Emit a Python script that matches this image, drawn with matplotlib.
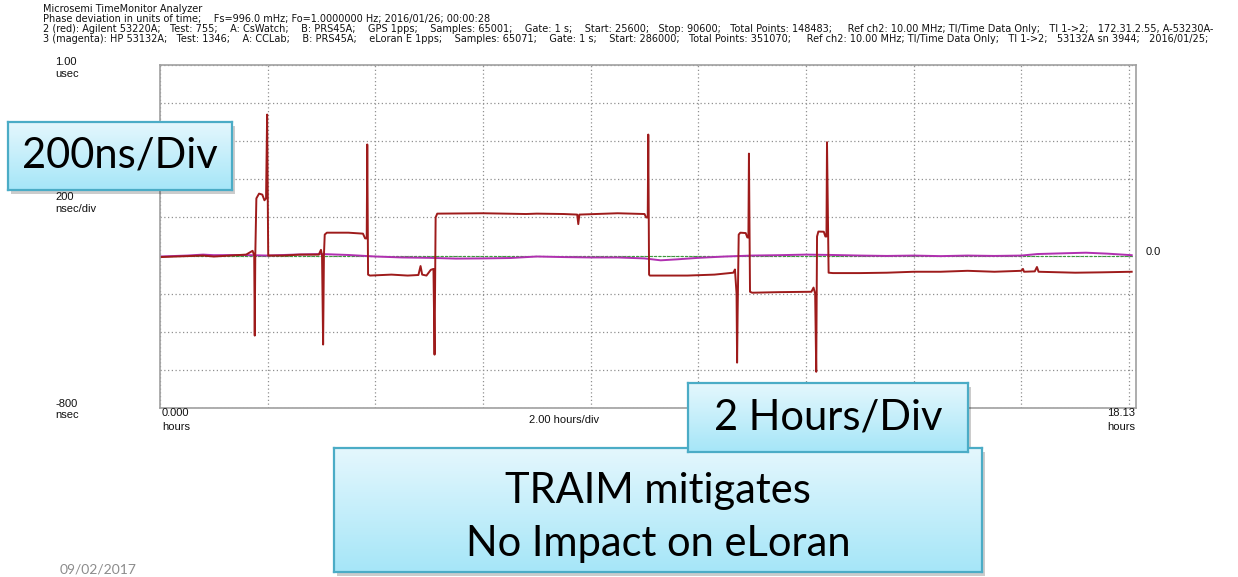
import numpy as np
import matplotlib
matplotlib.use("Agg")
import matplotlib.pyplot as plt
from matplotlib.colors import LinearSegmentedColormap
from matplotlib.patches import Rectangle

W, H = 1238, 577

# ---- data (hours, ns) ----
red_t = [0, 0.3, 0.8, 1.0, 1.3, 1.6, 1.72, 1.75, 1.76, 1.77, 1.79, 1.84, 1.90, 1.94, 1.97, 1.99, 2.01,
         2.3, 2.6, 2.95, 2.99, 3.01, 3.03, 3.045, 3.06, 3.10, 3.5, 3.77, 3.81, 3.84, 3.85, 3.865,
         3.9, 4.3, 4.6, 4.80, 4.84, 4.87, 4.95, 5.03, 5.08, 5.10, 5.12, 5.15,
         6.0, 6.8, 7.0, 7.5, 7.75, 7.77, 7.79, 8.5, 9.0, 9.03, 9.06, 9.07, 9.085,
         9.1, 9.8, 10.3, 10.65, 10.68, 10.71, 10.72, 10.73, 10.75, 10.78, 10.88, 10.91, 10.93, 10.94, 10.96,
         11.0, 11.5, 12.1, 12.14, 12.17, 12.19, 12.205, 12.23, 12.33, 12.36, 12.38, 12.39, 12.42,
         12.5, 13.0, 13.5, 14.0, 14.5, 15.0, 15.5, 16.0, 16.03, 16.05, 16.25, 16.29, 16.32, 17.0, 17.5, 18.05]
red_ns = [-8, -5, 0, -5, 0, 5, 25, 0, -420, 0, 300, 325, 320, 290, 300, 740, 0,
          0, 5, 5, 30, 0, -467, 0, 110, 120, 120, 115, 90, 90, 583, -100,
          -105, -100, -105, -102, -55, -100, -105, -75, -70, -520, 200, 220,
          222, 218, 220, 218, 215, 165, 215, 222, 218, 200, 200, 635, -100,
          -105, -105, -100, -90, -73, -200, -562, -300, 110, 120, 118, 95, 95, 535, -190,
          -195, -192, -190, -168, -200, -610, 100, 126, 125, 100, 100, 595, -90,
          -92, -92, -90, -85, -85, -80, -85, -80, -70, -85, -83, -60, -85, -90, -88, -85]

mag_t = [0, 0.5, 0.8, 1.0, 1.5, 2.0, 2.5, 3.0, 3.5, 4.0, 4.5, 5.0, 5.5, 6.0, 6.5, 7.0, 7.5, 8.0, 8.5,
         9.0, 9.3, 9.6, 10.0, 10.5, 11.0, 11.5, 12.0, 12.5, 13.0, 13.5, 14.0, 14.5, 15.0, 15.5, 16.0,
         16.3, 16.8, 17.2, 17.6, 18.05]
mag_ns = [-5, 0, 5, 2, 3, 0, 5, 8, 3, -5, -10, -12, -16, -15, -13, -5, -8, -10, -10,
          -15, -25, -20, -12, -5, 0, 2, 5, 3, 0, -2, 0, -3, 0, -2, 0,
          8, 12, 15, 10, 2]

ref_t = [0, 18.05]
ref_ns = [0, 0]

x_ticks = np.arange(0, 18.13, 2)
y_ticks = np.arange(-800, 1001, 200)

header = [
    "Microsemi TimeMonitor Analyzer",
    "Phase deviation in units of time;    Fs=996.0 mHz; Fo=1.0000000 Hz; 2016/01/26; 00:00:28",
    "2 (red): Agilent 53220A;   Test: 755;    A: CsWatch;    B: PRS45A;    GPS 1pps;    Samples: 65001;    Gate: 1 s;    "
    "Start: 25600;   Stop: 90600;   Total Points: 148483;     Ref ch2: 10.00 MHz; TI/Time Data Only;   TI 1->2;   172.31.2.55, A-53230A-",
    "3 (magenta): HP 53132A;   Test: 1346;    A: CCLab;    B: PRS45A;    eLoran E 1pps;    Samples: 65071;    Gate: 1 s;    "
    "Start: 286000;   Total Points: 351070;     Ref ch2: 10.00 MHz; TI/Time Data Only;   TI 1->2;   53132A sn 3944;   2016/01/25;",
]


def rect(x0, y0, x1, y1):
    return [x0 / W, 1 - y1 / H, (x1 - x0) / W, (y1 - y0) / H]


def fxy(x, y):
    return x / W, 1 - y / H


fig = plt.figure(figsize=(W / 100, H / 100), dpi=100)
fig.patch.set_facecolor("white")

ax = fig.add_axes(rect(160, 65, 1136, 408))
ax.set_zorder(1)
ax.plot(ref_t, ref_ns, color="#3c9a3c", lw=0.8, ls=(0, (3, 1)))
ax.plot(mag_t, mag_ns, color="#b030b0", lw=1.4)
ax.plot(red_t, red_ns, color="#9e1b1b", lw=1.4)
ax.set_xlim(0, 18.13)
ax.set_ylim(-800, 1000)
ax.set_xticks(x_ticks)
ax.set_yticks(y_ticks)
ax.grid(True, color="#909090", ls=(0, (1, 2)), lw=0.9)
ax.tick_params(left=False, bottom=False, labelleft=False, labelbottom=False)
for s in ax.spines.values():
    s.set_color("#a0a0a0")
    s.set_linewidth(1.2)

small = dict(fontsize=8, family="Liberation Sans", color="#111111")
head = dict(fontsize=7, family="DejaVu Sans", color="#111111")
for i, line in enumerate(header):
    fig.text(*fxy(43, 9 + 10 * i), line, va="center", ha="left", **head)

fig.text(*fxy(55, 62), "1.00", va="center", **small)
fig.text(*fxy(55, 74), "usec", va="center", **small)
fig.text(*fxy(55, 197), "200", va="center", **small)
fig.text(*fxy(55, 209), "nsec/div", va="center", **small)
fig.text(*fxy(55, 404), "-800", va="center", **small)
fig.text(*fxy(55, 415), "nsec", va="center", **small)
fig.text(*fxy(162, 413), "0.000", va="center", **small)
fig.text(*fxy(162, 427), "hours", va="center", **small)
fig.text(*fxy(564, 420), "2.00 hours/div", va="center", ha="center", **small)
fig.text(*fxy(1135, 413), "18.13", va="center", ha="right", **small)
fig.text(*fxy(1135, 427), "hours", va="center", ha="right", **small)
fig.text(*fxy(1146, 252), "0.0", va="center", **small)

fig.text(*fxy(60, 569), "09/02/2017", va="center", fontsize=10, family="Lato", color="#8c8c8c")

cmap = LinearSegmentedColormap.from_list("box", ["#e4f7fd", "#a6e6f8"])
grad = np.linspace(0, 1, 64).reshape(-1, 1)


def callout(x0, y0, x1, y1, lines, fs, ys):
    fig.patches.append(Rectangle(fxy(x0 + 3, y1 + 4), (x1 - x0) / W, (y1 - y0) / H,
                                 transform=fig.transFigure, facecolor="#000000", alpha=0.2,
                                 edgecolor="none", zorder=2))
    b = fig.add_axes(rect(x0, y0, x1, y1))
    b.set_zorder(3)
    b.imshow(grad, aspect="auto", cmap=cmap, extent=[0, 1, 0, 1])
    b.set_xticks([])
    b.set_yticks([])
    for s in b.spines.values():
        s.set_color("#4bacc6")
        s.set_linewidth(1.6)
    for t, yy in zip(lines, ys):
        b.text(0.5, yy, t, ha="center", va="center", fontsize=fs,
               family="Lato", color="black", transform=b.transAxes)


callout(8, 122, 232, 190, ["200ns/Div"], 30, [0.5])
callout(334, 448, 982, 572, ["TRAIM mitigates", "No Impact on eLoran"], 30, [0.655, 0.225])
callout(688, 383, 968, 452, ["2 Hours/Div"], 30, [0.5])

fig.savefig("out.png", dpi=100)
